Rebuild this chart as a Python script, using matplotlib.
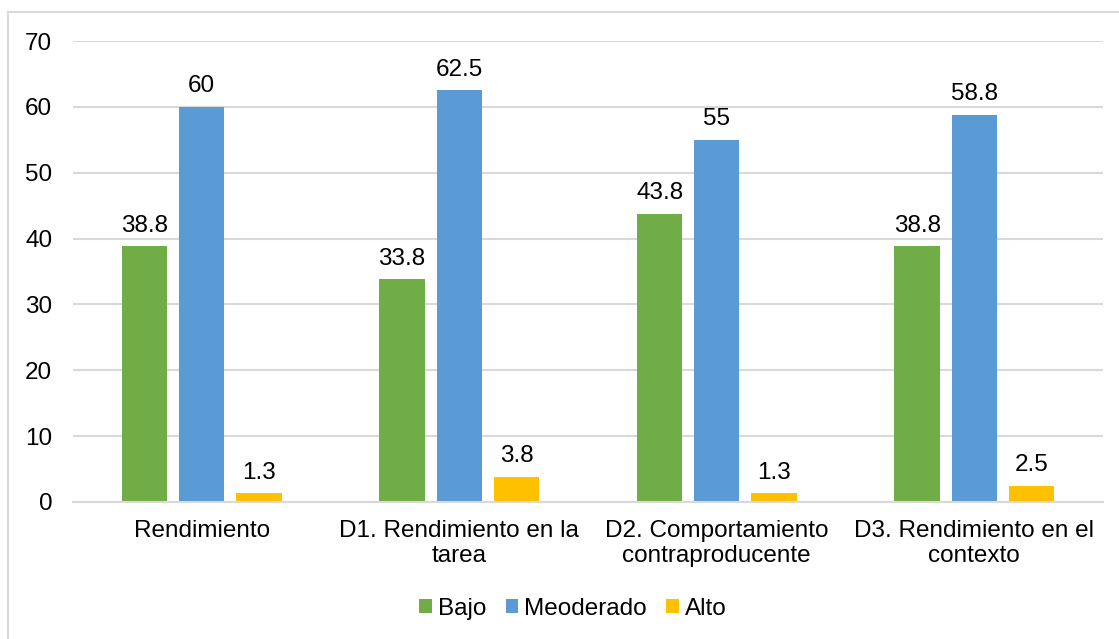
import numpy as np
import matplotlib.pyplot as plt
from matplotlib.lines import Line2D

categories = ["Rendimiento", "D1. Rendimiento en la\ntarea",
              "D2. Comportamiento\ncontraproducente", "D3. Rendimiento en el\ncontexto"]
series = ["Bajo", "Meoderado", "Alto"]
bajo = [38.8, 33.8, 43.8, 38.8]
moderado = [60, 62.5, 55, 58.8]
alto = [1.3, 3.8, 1.3, 2.5]
colors = ["#70AD47", "#5B9BD5", "#FFC000"]

plt.rcParams['font.family'] = ['Liberation Sans', 'DejaVu Sans']

fig = plt.figure(figsize=(11.19, 6.39), dpi=100)
ax = fig.add_axes([73/1119, 1-502/639, (1103-73)/1119, (502-41)/639])

x = np.arange(len(categories))
width = 0.176
step = 0.222
for i, (vals, name) in enumerate(zip([bajo, moderado, alto], series)):
    bars = ax.bar(x + (i-1)*step, vals, width, color=colors[i], label=name, zorder=3)
    for b, v in zip(bars, vals):
        ax.annotate(f"{v:g}", (b.get_x() + b.get_width()/2, v), xytext=(0, 7),
                    textcoords="offset points", ha="center", va="bottom", fontsize=17.5)

ax.set_xlim(-0.5, 3.5)
ax.set_ylim(0, 70)
ax.set_yticks(range(0, 71, 10))
ax.set_xticks(x)
ax.set_xticklabels(categories)
ax.tick_params(axis="both", length=0, labelsize=17.5, colors="#000000")
ax.tick_params(axis="x", pad=13)
ax.tick_params(axis="y", pad=15)
ax.grid(axis="y", color="#D9D9D9", linewidth=1.5, zorder=0)
for s in ["top", "right", "left"]:
    ax.spines[s].set_visible(False)
ax.spines["bottom"].set_color("#D9D9D9")
ax.spines["bottom"].set_linewidth(1.5)
ax.spines["bottom"].set_zorder(4)

leg = fig.legend(loc="center", bbox_to_anchor=(573/1119, 1-609/639), ncol=3, frameon=False,
                 fontsize=17.5, handlelength=0.52, handleheight=0.52, handletextpad=0.25,
                 columnspacing=0.8)

# outer chart border (only top and left visible in the crop)
fig.add_artist(Line2D([8/1119, 8/1119], [0, 1-12/639], color="#D9D9D9", linewidth=1.5))
fig.add_artist(Line2D([8/1119, 1], [1-12/639, 1-12/639], color="#D9D9D9", linewidth=1.5))

fig.savefig("out.png", dpi=100)
